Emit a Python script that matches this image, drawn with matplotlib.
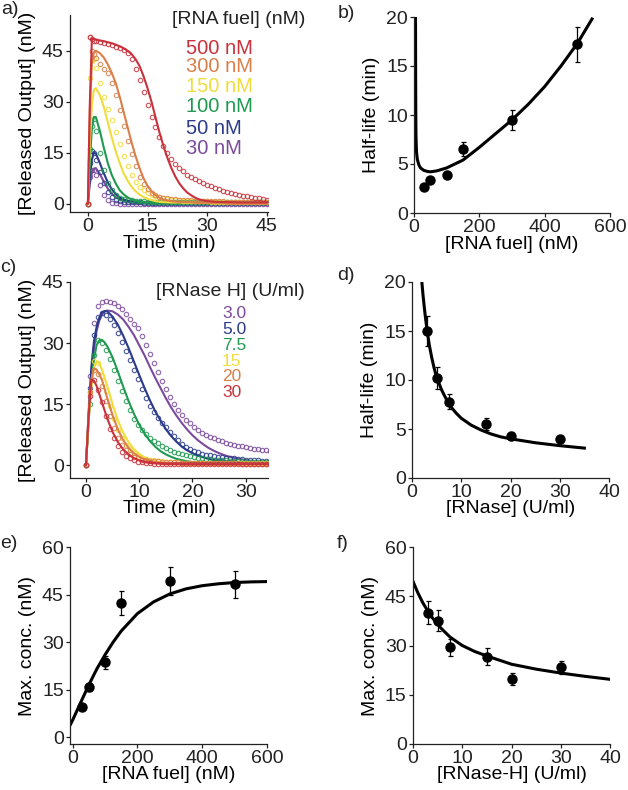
"""
 plot.py

 Six panels: release kinetics for different RNA fuel / RNase H levels
 (open circles = data, lines = model fit) plus the fitted half-life and
 max. concentration vs. fuel / enzyme.
"""

# 1. Imports
import matplotlib
matplotlib.use("Agg")
import matplotlib.pyplot as plt

plt.rcParams["font.family"] = ["Liberation Sans", "DejaVu Sans"]


# 2. Data
# panel a - time course (min) for different RNA fuel concentrations (nM)
t_a = [0, 0.5, 1, 1.5, 2] + list(range(3, 46))

a_500_pts = [0, 49, 48.5, 48, 48, 47.5, 47.2, 47, 46.6, 46.2, 45.8, 45.2, 44.2, 42.5,
             39.5, 36.5, 33, 29, 25.5, 22.5, 19.5, 17, 15, 13.3, 11.8, 10.6, 9.6, 8.6,
             7.9, 7.2, 6.6, 6.0, 5.5, 5.1, 4.7, 4.3, 3.9, 3.6, 3.3, 3.0, 2.7, 2.4, 2.2,
             2.0, 1.8, 1.6, 1.4, 1.2]
a_500_fit = [0, 30, 48.5, 48.5, 48.3, 48, 47.8, 47.5, 47.2, 46.8, 46.3, 45.7, 45, 44,
             42.5, 40.5, 37.5, 34, 30, 25.5, 21, 17, 13.5, 10.5, 8, 6, 4.5, 3.3, 2.5,
             1.8, 1.3, 1, 0.8, 0.7, 0.6, 0.55, 0.5, 0.5, 0.45, 0.45, 0.4, 0.4, 0.4,
             0.4, 0.4, 0.4, 0.4, 0.4]

a_300_pts = [0, 49, 45, 44, 43, 41, 39.5, 38.5, 35.5, 32, 27.5, 23, 18.5, 14.5, 11, 8,
             5.8, 4.3, 3.3, 2.6, 2.1, 1.8, 1.6, 1.4, 1.3, 1.2, 1.1, 1.0, 1.0, 0.9, 0.9,
             0.8, 0.8, 0.8, 0.7, 0.7, 0.7, 0.6, 0.6, 0.6, 0.6, 0.5, 0.5, 0.5, 0.5, 0.5,
             0.5, 0.5]
a_300_fit = [0, 28, 41, 44.5, 45, 44.3, 43, 41, 38.5, 35.5, 31.5, 27, 22.5, 18, 14,
             10.5, 7.5, 5.3, 3.7, 2.6, 1.8, 1.3, 1, 0.8, 0.7, 0.6, 0.55, 0.5, 0.45,
             0.45, 0.4, 0.4, 0.4, 0.4, 0.4, 0.4, 0.35, 0.35, 0.35, 0.35, 0.35, 0.3,
             0.3, 0.3, 0.3, 0.3, 0.3, 0.3]

a_150_pts = [0, 37, 42, 42.5, 40, 35.5, 31.5, 28, 24.5, 21, 17.5, 14, 11, 8.5, 6.5, 5,
             4, 3.2, 2.6, 2.2, 1.9, 1.6, 1.4, 1.25, 1.1, 1.0, 0.95, 0.9, 0.85, 0.8,
             0.75, 0.7, 0.7, 0.65, 0.65, 0.6, 0.6, 0.6, 0.55, 0.55, 0.55, 0.5, 0.5,
             0.5, 0.5, 0.5, 0.5, 0.5]
a_150_fit = [0, 18, 29, 33.5, 34, 32, 28.5, 24, 19.5, 15.5, 12, 9, 6.8, 5, 3.7, 2.7, 2,
             1.5, 1.1, 0.8, 0.6, 0.5, 0.45, 0.4, 0.4, 0.4, 0.4, 0.35, 0.35, 0.35, 0.35,
             0.35, 0.3, 0.3, 0.3, 0.3, 0.3, 0.3, 0.3, 0.3, 0.3, 0.3, 0.3, 0.3, 0.3,
             0.3, 0.3, 0.3]

a_100_pts = [0, 16, 23, 25, 21.5, 15, 10, 6, 4, 2.6, 1.8, 1.4, 1.1, 1.0, 0.8, 0.7, 0.7,
             0.6, 0.6, 0.55, 0.5, 0.5, 0.5, 0.5, 0.45, 0.45, 0.45, 0.45, 0.4, 0.4, 0.4,
             0.4, 0.4, 0.4, 0.4, 0.4, 0.4, 0.4, 0.4, 0.4, 0.4, 0.4, 0.4, 0.4, 0.4,
             0.4, 0.4, 0.4]
a_100_fit = [0, 13, 22, 25.5, 25.5, 21.5, 16.5, 12, 8.5, 6, 4, 2.8, 1.9, 1.3, 0.9, 0.6,
             0.5, 0.4, 0.35, 0.3, 0.3, 0.3, 0.3, 0.3, 0.3, 0.3, 0.3, 0.3, 0.3, 0.3,
             0.3, 0.3, 0.3, 0.3, 0.3, 0.3, 0.3, 0.3, 0.3, 0.3, 0.3, 0.3, 0.3, 0.3,
             0.3, 0.3, 0.3, 0.3]

a_50_pts = [0, 12, 15.5, 15, 13, 9.5, 6, 3.5, 2, 1.2, 0.8, 0.6, 0.5, 0.45, 0.4, 0.4,
            0.35, 0.35, 0.35, 0.35, 0.3, 0.3, 0.3, 0.3, 0.3, 0.3, 0.3, 0.3, 0.3, 0.3,
            0.3, 0.3, 0.3, 0.3, 0.3, 0.3, 0.3, 0.3, 0.3, 0.3, 0.3, 0.3, 0.3, 0.3,
            0.3, 0.3, 0.3, 0.3]
a_50_fit = [0, 8, 13, 15, 14.8, 12, 9, 6.3, 4.3, 2.9, 1.9, 1.3, 0.9, 0.6, 0.4, 0.3,
            0.25, 0.25, 0.25, 0.25, 0.25, 0.25, 0.25, 0.25, 0.25, 0.25, 0.25, 0.25,
            0.25, 0.25, 0.25, 0.25, 0.25, 0.25, 0.25, 0.25, 0.25, 0.25, 0.25, 0.25,
            0.25, 0.25, 0.25, 0.25, 0.25, 0.25, 0.25, 0.25]

a_30_pts = [0, 8, 10, 10, 8.5, 5.5, 2.5, 1, 0.3, 0.1, 0, 0, 0, 0, 0, 0, 0, 0, 0, 0, 0,
            0, 0, 0, 0, 0, 0, 0, 0, 0, 0, 0, 0, 0, 0, 0, 0, 0, 0, 0, 0, 0, 0, 0, 0,
            0, 0, 0]
a_30_fit = [0, 6, 9, 10.3, 10.5, 8.8, 6.5, 4.5, 3, 2, 1.3, 0.8, 0.5, 0.3, 0.2, 0.1, 0.1,
            0.1, 0.1, 0.1, 0.1, 0.1, 0.1, 0.1, 0.1, 0.1, 0.1, 0.1, 0.1, 0.1, 0.1, 0.1,
            0.1, 0.1, 0.1, 0.1, 0.1, 0.1, 0.1, 0.1, 0.1, 0.1, 0.1, 0.1, 0.1, 0.1, 0.1,
            0.1]

# panel c - time course for different RNase H levels (U/ml), sampled every 45 s
t_c = [i * 0.75 for i in range(47)]
t_c_fit = [0, 0.5, 1, 1.5, 2, 2.5, 3, 3.5, 4] + list(range(5, 36))

c_3_pts = [0, 22, 35, 39, 40, 40.3, 40.2, 39.8, 39.2, 38.3, 37.2, 36, 34.8, 33.6, 31.8,
           29.5, 27.3, 25, 22.8, 20.6, 18.7, 16.8, 15.1, 13.5, 12.3, 11.2, 10.3, 9.4,
           8.6, 8, 7.5, 7, 6.6, 6.2, 5.9, 5.6, 5.3, 5.05, 4.8, 4.65, 4.4, 4.25, 4.1,
           3.95, 3.8, 3.65, 3.5]
c_3_fit = [0, 11, 22, 28.5, 33, 35.5, 37, 37.8, 38, 37.8, 37, 35.8, 34, 32, 29.5, 27,
           24.2, 21.5, 19, 16.5, 14.2, 12.2, 10.4, 8.8, 7.4, 6.2, 5.2, 4.3, 3.6, 3,
           2.5, 2.1, 1.8, 1.5, 1.3, 1.1, 1, 0.9, 0.8, 0.7]

c_5_pts = [0, 19, 32, 36.5, 37.5, 37, 36, 34.5, 32.5, 30.2, 28, 25.8, 23.5, 21.2, 18.7,
           16.5, 14.5, 13, 11.7, 10.5, 9.3, 8.2, 7.1, 6.2, 5.3, 4.6, 4, 3.6, 3.2, 2.9,
           2.6, 2.45, 2.3, 2.15, 2, 1.9, 1.8, 1.7, 1.6, 1.5, 1.4, 1.35, 1.3, 1.2, 1.15,
           1.1, 1.0]
c_5_fit = [0, 13, 24, 30.5, 34, 36.3, 37.5, 37.9, 37.8, 36.5, 34.5, 31.8, 28.8, 25.5,
           22.2, 19, 16, 13.3, 11, 8.9, 7.2, 5.8, 4.6, 3.7, 3, 2.4, 2, 1.6, 1.3, 1.1,
           1, 0.9, 0.85, 0.8, 0.75, 0.7, 0.68, 0.65, 0.62, 0.6]

c_7_5_pts = [0, 15, 27, 30.7, 30, 28.3, 26, 23.4, 20.7, 18.2, 15.7, 13.5, 11.5, 9.8, 8.7,
             7.6, 6.8, 6.1, 5.4, 4.8, 4.2, 3.75, 3.3, 3, 2.7, 2.45, 2.25, 2.05, 1.9,
             1.75, 1.6, 1.5, 1.4, 1.3, 1.25, 1.2, 1.1, 1.05, 1, 0.95, 0.9, 0.85, 0.8,
             0.78, 0.75, 0.72, 0.7]
c_7_5_fit = [0, 11, 20, 26, 29.5, 30.7, 30.8, 30.2, 29.2, 26.5, 23, 19.3, 15.8, 12.7, 10,
             7.8, 6, 4.6, 3.5, 2.7, 2.1, 1.6, 1.3, 1, 0.8, 0.7, 0.6, 0.55, 0.5, 0.5,
             0.45, 0.45, 0.4, 0.4, 0.4, 0.4, 0.4, 0.4, 0.4, 0.4]

c_15_pts = [0, 18, 25.5, 25, 22, 18.3, 14.5, 11.3, 8.6, 6.6, 5, 3.9, 3, 2.4, 1.9, 1.6,
            1.4, 1.25, 1.1, 1, 0.9, 0.85, 0.8, 0.75, 0.7, 0.7, 0.68, 0.66, 0.65, 0.63,
            0.62, 0.6, 0.6, 0.58, 0.57, 0.56, 0.55, 0.55, 0.54, 0.53, 0.52, 0.52, 0.51,
            0.5, 0.5, 0.5, 0.5]
c_15_fit = [0, 11, 19, 24, 25.5, 25, 23.5, 21.5, 19.5, 15, 11, 8, 5.7, 4, 2.8, 2, 1.4, 1,
            0.8, 0.6, 0.5, 0.45, 0.4, 0.4, 0.4, 0.35, 0.35, 0.35, 0.35, 0.3, 0.3, 0.3,
            0.3, 0.3, 0.3, 0.3, 0.3, 0.3, 0.3, 0.3]

c_20_pts = [0, 18, 23.5, 22.3, 19.5, 15.8, 12, 9.1, 6.7, 5, 3.7, 2.8, 2.1, 1.7, 1.4, 1.2,
            1.1, 1.0, 0.95, 0.9, 0.85, 0.8, 0.75, 0.72, 0.7, 0.68, 0.65, 0.62, 0.6,
            0.58, 0.56, 0.55, 0.53, 0.52, 0.5, 0.5, 0.48, 0.47, 0.46, 0.45, 0.45, 0.44,
            0.43, 0.42, 0.41, 0.4, 0.4]
c_20_fit = [0, 13, 21, 23.8, 23.5, 22.3, 21, 18.8, 16.5, 12.3, 8.8, 6.2, 4.3, 3, 2.1,
            1.5, 1.1, 0.8, 0.6, 0.5, 0.45, 0.4, 0.4, 0.35, 0.35, 0.3, 0.3, 0.3, 0.3,
            0.3, 0.3, 0.3, 0.3, 0.3, 0.3, 0.3, 0.3, 0.3, 0.3, 0.3]

c_30_pts = [0, 17, 21, 18.5, 15.5, 12, 9, 6.6, 4.8, 3.4, 2.4, 1.7, 1.2, 0.9, 0.75, 0.6,
            0.5, 0.45, 0.42, 0.4, 0.38, 0.36, 0.35, 0.34, 0.33, 0.32, 0.31, 0.3, 0.3,
            0.3, 0.3, 0.3, 0.3, 0.3, 0.3, 0.3, 0.3, 0.3, 0.3, 0.3, 0.3, 0.3, 0.3, 0.3,
            0.3, 0.3, 0.3]
c_30_fit = [0, 12, 21, 20.8, 19.5, 17.5, 15.5, 13.5, 11.5, 8.2, 5.7, 3.9, 2.7, 1.8, 1.2,
            0.8, 0.6, 0.5, 0.4, 0.3, 0.3, 0.3, 0.3, 0.3, 0.3, 0.3, 0.3, 0.3, 0.3, 0.3,
            0.3, 0.3, 0.3, 0.3, 0.3, 0.3, 0.3, 0.3, 0.3, 0.3]

fuel_labels = ["500 nM", "300 nM", "150 nM", "100 nM", "50 nM", "30 nM"]
rnase_labels = ["3.0", "5.0", "7.5", "15", "20", "30"]

# panel b - half-life vs RNA fuel
b_fuel = [30, 50, 100, 150, 300, 500]
b_half = [2.7, 3.4, 3.9, 6.5, 9.5, 17.2]
b_err = [0.2, 0.3, 0.3, 0.7, 1.0, 1.8]
b_fit_x = [4.5, 5, 5.5, 6, 7, 8, 10, 15, 20, 30, 40, 50, 70, 100, 150, 200, 250, 300,
           350, 400, 450, 500, 545]
b_fit_y = [22, 14, 10, 8, 6.8, 6.1, 5.5, 4.9, 4.6, 4.35, 4.25, 4.2, 4.3, 4.6, 5.4, 6.7,
           8.1, 9.5, 11.1, 12.9, 15, 17.3, 19.8]

# panel d - half-life vs RNase H
d_rnase = [3, 5, 7.5, 15, 20, 30]
d_half = [15, 10.2, 7.8, 5.5, 4.3, 4.0]
d_err = [1.5, 1.1, 0.8, 0.6, 0.4, 0.3]
d_fit_x = [2, 2.25, 2.5, 2.75, 3, 3.5, 4, 4.5, 5, 6, 7, 8, 9, 10, 12, 14, 16, 18, 20,
           25, 30, 35]
d_fit_y = [20, 18.6, 17.4, 16.3, 15.3, 13.6, 12.3, 11.2, 10.3, 9, 8, 7.2, 6.6, 6.1, 5.4,
           4.9, 4.5, 4.2, 4.0, 3.6, 3.3, 3.05]

# panel e - max. concentration vs RNA fuel
e_fuel = [30, 50, 100, 150, 300, 500]
e_max = [9.5, 15.8, 23.6, 42.3, 49.2, 48.2]
e_err = [0.5, 1.2, 2.1, 3.8, 4.4, 4.2]
e_fit_x = [-8, 0, 25, 50, 75, 100, 125, 150, 200, 250, 300, 350, 400, 450, 500, 550, 600]
e_fit_y = [3.8, 5.4, 11, 16.5, 21.6, 26, 30, 33.5, 39, 42.7, 45.2, 46.8, 47.8, 48.4,
           48.8, 49, 49.1]

# panel f - max. concentration vs RNase H
f_rnase = [3, 5, 7.5, 15, 20, 30]
f_max = [40, 37.6, 29.4, 26.6, 19.9, 23.4]
f_err = [3.6, 3.3, 2.6, 2.5, 1.8, 2.0]
f_fit_x = [0, 1, 2, 3, 4, 5, 6, 7.5, 10, 12.5, 15, 20, 25, 30, 35, 40]
f_fit_y = [49.5, 46, 43, 40.5, 38.3, 36.4, 34.8, 32.6, 30, 28.2, 26.8, 24.3, 22.8, 21.6,
           20.6, 19.7]


# 3. Colours
red = "#c8323c"
orange = "#da7f4a"
yellow = "#f0dc3c"
green = "#1f9a50"
blue = "#2b3b8a"
purple = "#7b4a9c"
ink = "#222222"


# 4. Figure + axes (positions measured in pixels of the 628x790 target)
W, H = 628, 790
fig = plt.figure(figsize=(W / 100, H / 100), dpi=100)


def box(left, top, right, bottom):
    return [left / W, 1 - bottom / H, (right - left) / W, (bottom - top) / H]


def px(x, y):
    return x / W, 1 - y / H


ax_a = fig.add_axes(box(70, 15, 268, 212))
ax_b = fig.add_axes(box(414, 17, 610, 213))
ax_c = fig.add_axes(box(70, 282, 268, 478))
ax_d = fig.add_axes(box(412, 282, 609, 478))
ax_e = fig.add_axes(box(70, 547, 267, 744))
ax_f = fig.add_axes(box(413, 547, 610, 744))

for ax in (ax_a, ax_b, ax_c, ax_d, ax_e, ax_f):
    ax.spines[["top", "right"]].set_visible(False)
    for s in ("left", "bottom"):
        ax.spines[s].set_linewidth(0.9)
        ax.spines[s].set_color(ink)
    ax.tick_params(direction="out", length=3, width=0.9, pad=1.5,
                   labelsize=14, color=ink, labelcolor=ink)


# 5. Kinetic panels (a, c)
def kinetics(ax, t_pts, t_fit, series):
    for pts, fit, col in series:
        ax.plot(t_pts, pts, "o", ms=3.2, mfc="none", mec=col, mew=0.8, alpha=0.85)
        ax.plot(t_fit, fit, "-", color=col, lw=1.5, solid_capstyle="round")


kinetics(ax_a, t_a, t_a, [
    (a_30_pts, a_30_fit, purple),
    (a_50_pts, a_50_fit, blue),
    (a_100_pts, a_100_fit, green),
    (a_150_pts, a_150_fit, yellow),
    (a_300_pts, a_300_fit, orange),
    (a_500_pts, a_500_fit, red),
])
ax_a.set_xlim(-4.5, 45.3)
ax_a.set_ylim(-2.4, 55.5)
ax_a.set_xticks([0, 15, 30, 45])
ax_a.set_yticks([0, 15, 30, 45])
ax_a.set_xlabel("Time (min)", fontsize=14, labelpad=0)
ax_a.set_ylabel("[Released Output] (nM)", fontsize=14)

fig.text(*px(305, 20), "[RNA fuel] (nM)", fontsize=14, ha="right", va="center", color=ink)
for lab, col, y in zip(fuel_labels, [red, orange, yellow, green, blue, purple],
                       [48, 67, 87, 107, 128, 149]):
    fig.text(*px(186, y), lab, fontsize=14.5, ha="left", va="center", color=col)

kinetics(ax_c, t_c, t_c_fit, [
    (c_3_pts, c_3_fit, purple),
    (c_5_pts, c_5_fit, blue),
    (c_7_5_pts, c_7_5_fit, green),
    (c_15_pts, c_15_fit, yellow),
    (c_20_pts, c_20_fit, orange),
    (c_30_pts, c_30_fit, red),
])
ax_c.set_xlim(-3, 34.2)
ax_c.set_ylim(-3.1, 45)
ax_c.set_xticks([0, 10, 20, 30])
ax_c.set_yticks([0, 15, 30, 45])
ax_c.set_xlabel("Time (min)", fontsize=14, labelpad=-1)
ax_c.set_ylabel("[Released Output] (nM)", fontsize=14)

fig.text(*px(305, 292), "[RNase H] (U/ml)", fontsize=14, ha="right", va="center", color=ink)
for lab, col, y in zip(rnase_labels, [purple, blue, green, yellow, orange, red],
                       [314, 329.7, 345.4, 361.1, 376.8, 392.5]):
    fig.text(*px(222, y), lab, fontsize=12.5, ha="left", va="center", color=col)


# 6. Summary panels (b, d, e, f)
def summary(ax, x, y, err, fit_x, fit_y):
    ax.errorbar(x, y, yerr=err, fmt="o", color="black", ms=6.5, elinewidth=0.9,
                capsize=1.8, capthick=0.9, zorder=3)
    ax.plot(fit_x, fit_y, "-", color="black", lw=2.2, zorder=2)


summary(ax_b, b_fuel, b_half, b_err, b_fit_x, b_fit_y)
ax_b.set_xlim(0, 600)
ax_b.set_ylim(0, 20)
ax_b.set_xticks([0, 200, 400, 600])
ax_b.set_yticks([0, 5, 10, 15, 20])
ax_b.set_xlabel("[RNA fuel] (nM)", fontsize=14, labelpad=0)
ax_b.set_ylabel("Half-life (min)", fontsize=14)

summary(ax_d, d_rnase, d_half, d_err, d_fit_x, d_fit_y)
ax_d.set_xlim(0, 40)
ax_d.set_ylim(0, 20)
ax_d.set_xticks([0, 10, 20, 30, 40])
ax_d.set_yticks([0, 5, 10, 15, 20])
ax_d.set_xlabel("[RNase] (U/ml)", fontsize=14, labelpad=-1)
ax_d.set_ylabel("Half-life (min)", fontsize=14)

summary(ax_e, e_fuel, e_max, e_err, e_fit_x, e_fit_y)
ax_e.set_xlim(-8, 600)
ax_e.set_ylim(-2.1, 60)
ax_e.set_xticks([0, 200, 400, 600])
ax_e.set_yticks([0, 15, 30, 45, 60])
ax_e.set_xlabel("[RNA fuel] (nM)", fontsize=14, labelpad=-1)
ax_e.set_ylabel("Max. conc. (nM)", fontsize=14)

summary(ax_f, f_rnase, f_max, f_err, f_fit_x, f_fit_y)
ax_f.set_xlim(0, 40)
ax_f.set_ylim(0, 60)
ax_f.set_xticks([0, 10, 20, 30, 40])
ax_f.set_yticks([0, 15, 30, 45, 60])
ax_f.set_xlabel("[RNase-H] (U/ml)", fontsize=14, labelpad=-1)
ax_f.set_ylabel("Max. conc. (nM)", fontsize=14)


# 7. Panel letters
for lab, x, y in [("a)", 1, 9), ("b)", 338, 13), ("c)", 0, 267),
                  ("d)", 337, 276), ("e)", 0, 543), ("f)", 337, 543)]:
    fig.text(*px(x, y), lab, fontsize=14, ha="left", va="center", color=ink)

fig.savefig("out.png", dpi=100)
